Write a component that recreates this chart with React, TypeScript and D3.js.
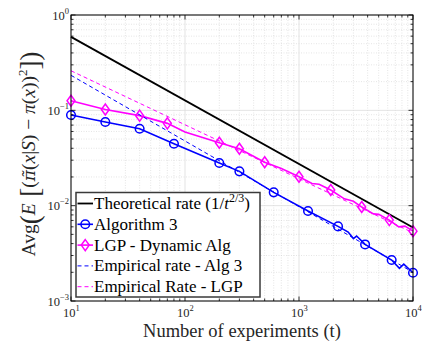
import * as d3 from "d3"

// axis ticks
const xTicks = [10, 100, 1000, 10000]
const yTicks = [1e-3, 1e-2, 1e-1, 1]
const xTickExp = ["1", "2", "3", "4"]
const yTickExp = ["\u22123", "\u22122", "\u22121", "0"]

// theoretical rate 1/t^(2/3)
const theoryT = [10, 10000]
const theoryV = [0.59, 0.0059]

// Algorithm 3 (line + markers)
const alg3T = [10, 20, 40, 80, 200, 300, 600, 1200, 2200, 2700, 3000, 3200, 3800, 6500, 7600, 8300, 10000]
const alg3V = [0.0893, 0.0754, 0.0641, 0.0446, 0.028, 0.0229, 0.0138, 0.00878, 0.00606, 0.00528, 0.00452, 0.0048, 0.00392, 0.00269, 0.0022, 0.00244, 0.00198]
const alg3MarkT = [10, 20, 40, 80, 200, 300, 600, 1200, 2200, 3800, 6500, 10000]
const alg3MarkV = [0.0893, 0.0754, 0.0641, 0.0446, 0.028, 0.0229, 0.0138, 0.00878, 0.00606, 0.00392, 0.00269, 0.00198]

// LGP - Dynamic Alg (line + markers)
const lgpT = [10, 20, 40, 70, 100, 200, 300, 500, 700, 1000, 1300, 1500, 1900, 2500, 3000, 3550, 4500, 5000, 6200, 7500, 8500, 10000]
const lgpV = [0.126, 0.102, 0.088, 0.073, 0.0592, 0.0457, 0.0395, 0.0285, 0.0245, 0.0201, 0.0171, 0.0168, 0.0146, 0.0118, 0.0111, 0.00967, 0.0082, 0.0081, 0.00706, 0.006, 0.0061, 0.0054]
const lgpMarkT = [10, 20, 40, 70, 200, 300, 500, 1000, 1900, 3550, 6200, 10000]
const lgpMarkV = [0.126, 0.102, 0.088, 0.073, 0.0457, 0.0395, 0.0285, 0.0201, 0.0146, 0.00967, 0.00706, 0.0054]

// empirical rates (fitted)
const empAlgT = [10, 10000]
const empAlgV = [0.233, 0.002]
const empLgpT = [10, 10000]
const empLgpV = [0.26, 0.0052]

const BLUE = "#0000ff"
const MAGENTA = "#ff00ff"
const FONT = "'Liberation Serif', 'Times New Roman', serif"

export default function App() {
  const width = 422
  const height = 343
  const margin = { top: 15, right: 9, bottom: 42, left: 71 }
  const x = d3.scaleLog().domain([10, 1e4]).range([margin.left, width - margin.right])
  const y = d3.scaleLog().domain([1e-3, 1]).range([height - margin.bottom, margin.top])
  const x0 = margin.left
  const x1 = width - margin.right
  const y0 = margin.top
  const y1 = height - margin.bottom

  const line = (ts: number[], vs: number[]) =>
    d3.line<number>().x((t) => x(t)).y((_, i) => y(vs[i]))(ts) || ""

  const xMinor = x.ticks().filter((t) => !xTicks.includes(t))
  const yMinor = y.ticks().filter((v) => !yTicks.some((m) => Math.abs(m - v) < 1e-12))

  const diamond = (cx: number, cy: number, r: number) =>
    `M${cx},${cy - r}L${cx + r * 0.72},${cy}L${cx},${cy + r}L${cx - r * 0.72},${cy}Z`

  const legend = { x: 76, y: 192.5, w: 184, h: 104.5 }
  const rowY = (i: number) => legend.y + 11 + i * 20.8
  const legendItems = ["theory", "Algorithm 3", "LGP - Dynamic Alg", "Empirical rate - Alg 3", "Empirical Rate - LGP"]

  return (
    <svg width={width} height={height} style={{ position: "absolute", left: 0, top: 0, background: "#fff" }} fontFamily={FONT}>
      {/* minor grid */}
      <g stroke="#d4d4d4" strokeWidth={0.6} strokeDasharray="1,1.5">
        {xMinor.map((t) => (
          <line key={"xm" + t} x1={x(t)} x2={x(t)} y1={y0} y2={y1} />
        ))}
        {yMinor.map((v) => (
          <line key={"ym" + v} x1={x0} x2={x1} y1={y(v)} y2={y(v)} />
        ))}
      </g>
      {/* major grid */}
      <g stroke="#dcdcdc" strokeWidth={0.8}>
        {xTicks.map((t) => (
          <line key={"xg" + t} x1={x(t)} x2={x(t)} y1={y0} y2={y1} />
        ))}
        {yTicks.map((v) => (
          <line key={"yg" + v} x1={x0} x2={x1} y1={y(v)} y2={y(v)} />
        ))}
      </g>

      {/* data */}
      <path d={line(theoryT, theoryV)} fill="none" stroke="#000" strokeWidth={1.8} />
      <path d={line(alg3T, alg3V)} fill="none" stroke={BLUE} strokeWidth={1.6} />
      {alg3MarkT.map((t, i) => (
        <circle key={"am" + t} cx={x(t)} cy={y(alg3MarkV[i])} r={4.3} fill="none" stroke={BLUE} strokeWidth={1.5} />
      ))}
      <path d={line(lgpT, lgpV)} fill="none" stroke={MAGENTA} strokeWidth={1.6} />
      {lgpMarkT.map((t, i) => (
        <path key={"lm" + t} d={diamond(x(t), y(lgpMarkV[i]), 5.5)} fill="none" stroke={MAGENTA} strokeWidth={1.5} />
      ))}
      <path d={line(empAlgT, empAlgV)} fill="none" stroke={BLUE} strokeWidth={1} strokeDasharray="4,3" />
      <path d={line(empLgpT, empLgpV)} fill="none" stroke={MAGENTA} strokeWidth={1} strokeDasharray="4,3" />

      {/* axes box and ticks */}
      <rect x={x0} y={y0} width={x1 - x0} height={y1 - y0} fill="none" stroke="#000" strokeWidth={1} />
      <g stroke="#000" strokeWidth={0.8}>
        {xTicks.map((t) => (
          <g key={"xt" + t}>
            <line x1={x(t)} x2={x(t)} y1={y1} y2={y1 - 4.5} />
            <line x1={x(t)} x2={x(t)} y1={y0} y2={y0 + 4.5} />
          </g>
        ))}
        {xMinor.map((t) => (
          <g key={"xmt" + t}>
            <line x1={x(t)} x2={x(t)} y1={y1} y2={y1 - 2.5} />
            <line x1={x(t)} x2={x(t)} y1={y0} y2={y0 + 2.5} />
          </g>
        ))}
        {yTicks.map((v) => (
          <g key={"yt" + v}>
            <line x1={x0} x2={x0 + 4.5} y1={y(v)} y2={y(v)} />
            <line x1={x1} x2={x1 - 4.5} y1={y(v)} y2={y(v)} />
          </g>
        ))}
        {yMinor.map((v) => (
          <g key={"ymt" + v}>
            <line x1={x0} x2={x0 + 2.5} y1={y(v)} y2={y(v)} />
            <line x1={x1} x2={x1 - 2.5} y1={y(v)} y2={y(v)} />
          </g>
        ))}
      </g>

      {/* tick labels */}
      <g fill="#262626" fontSize={12.5}>
        {xTicks.map((t, i) => (
          <text key={"xl" + t} x={x(t) - 8} y={317}>
            10<tspan fontSize={8.5} dy={-6}>{xTickExp[i]}</tspan>
          </text>
        ))}
        {yTicks.map((v, i) => (
          <text key={"yl" + v} x={x0 - 2} y={y(v) + 4.5} textAnchor="end">
            10<tspan fontSize={8.5} dy={-6}>{yTickExp[i]}</tspan>
          </text>
        ))}
      </g>

      {/* axis labels */}
      <text x={242} y={337} textAnchor="middle" fontSize={18.5} fill="#262626">
        Number of experiments (t)
      </text>
      <text transform="translate(35,154) rotate(-90)" textAnchor="middle" fontSize={19.5} fill="#262626">
        Avg<tspan fontSize={27} dy={4}>(</tspan>
        <tspan fontStyle="italic" dy={-4}>E</tspan>
        <tspan fontSize={27} dy={4}> [</tspan>
        <tspan dy={-4}>(</tspan>
        <tspan fontStyle="italic" fontFamily="'DejaVu Serif', serif" fontSize={17}>{"\u03c0\u0303"}</tspan>(<tspan fontStyle="italic">x</tspan>|<tspan fontStyle="italic">S</tspan>) {"\u2212"} <tspan fontStyle="italic">{"\u03c0"}</tspan>(<tspan fontStyle="italic">x</tspan>))
        <tspan fontSize={13} dy={-8}>2</tspan>
        <tspan fontSize={27} dy={12}>]</tspan>
        <tspan fontSize={27}>)</tspan>
      </text>

      {/* legend */}
      <rect x={legend.x} y={legend.y} width={legend.w} height={legend.h} fill="#fff" stroke="#3a3a3a" strokeWidth={1.5} />
      {legendItems.map((label, i) => {
        const cy = rowY(i)
        const lx0 = legend.x + 1.5
        const lx1 = legend.x + 17
        const mx = (lx0 + lx1) / 2
        return (
          <g key={"lg" + i}>
            {i === 0 && <line x1={lx0} x2={lx1} y1={cy} y2={cy} stroke="#000" strokeWidth={1.8} />}
            {i === 1 && (
              <>
                <line x1={lx0} x2={lx1} y1={cy} y2={cy} stroke={BLUE} strokeWidth={1.6} />
                <circle cx={mx} cy={cy} r={4.3} fill="none" stroke={BLUE} strokeWidth={1.5} />
              </>
            )}
            {i === 2 && (
              <>
                <line x1={lx0} x2={lx1} y1={cy} y2={cy} stroke={MAGENTA} strokeWidth={1.6} />
                <path d={diamond(mx, cy, 5.5)} fill="none" stroke={MAGENTA} strokeWidth={1.5} />
              </>
            )}
            {i === 3 && <line x1={lx0} x2={lx1} y1={cy} y2={cy} stroke={BLUE} strokeWidth={1} strokeDasharray="4,3" />}
            {i === 4 && <line x1={lx0} x2={lx1} y1={cy} y2={cy} stroke={MAGENTA} strokeWidth={1} strokeDasharray="4,3" />}
            <text x={legend.x + 18} y={cy + 5.5} fontSize={17} fill="#000">
              {i === 0 ? (
                <>
                  Theoretical rate (1/<tspan fontStyle="italic">t</tspan>
                  <tspan fontSize={12} dy={-7}>2/3</tspan>
                  <tspan dy={7}>)</tspan>
                </>
              ) : (
                label
              )}
            </text>
          </g>
        )
      })}
    </svg>
  )
}
